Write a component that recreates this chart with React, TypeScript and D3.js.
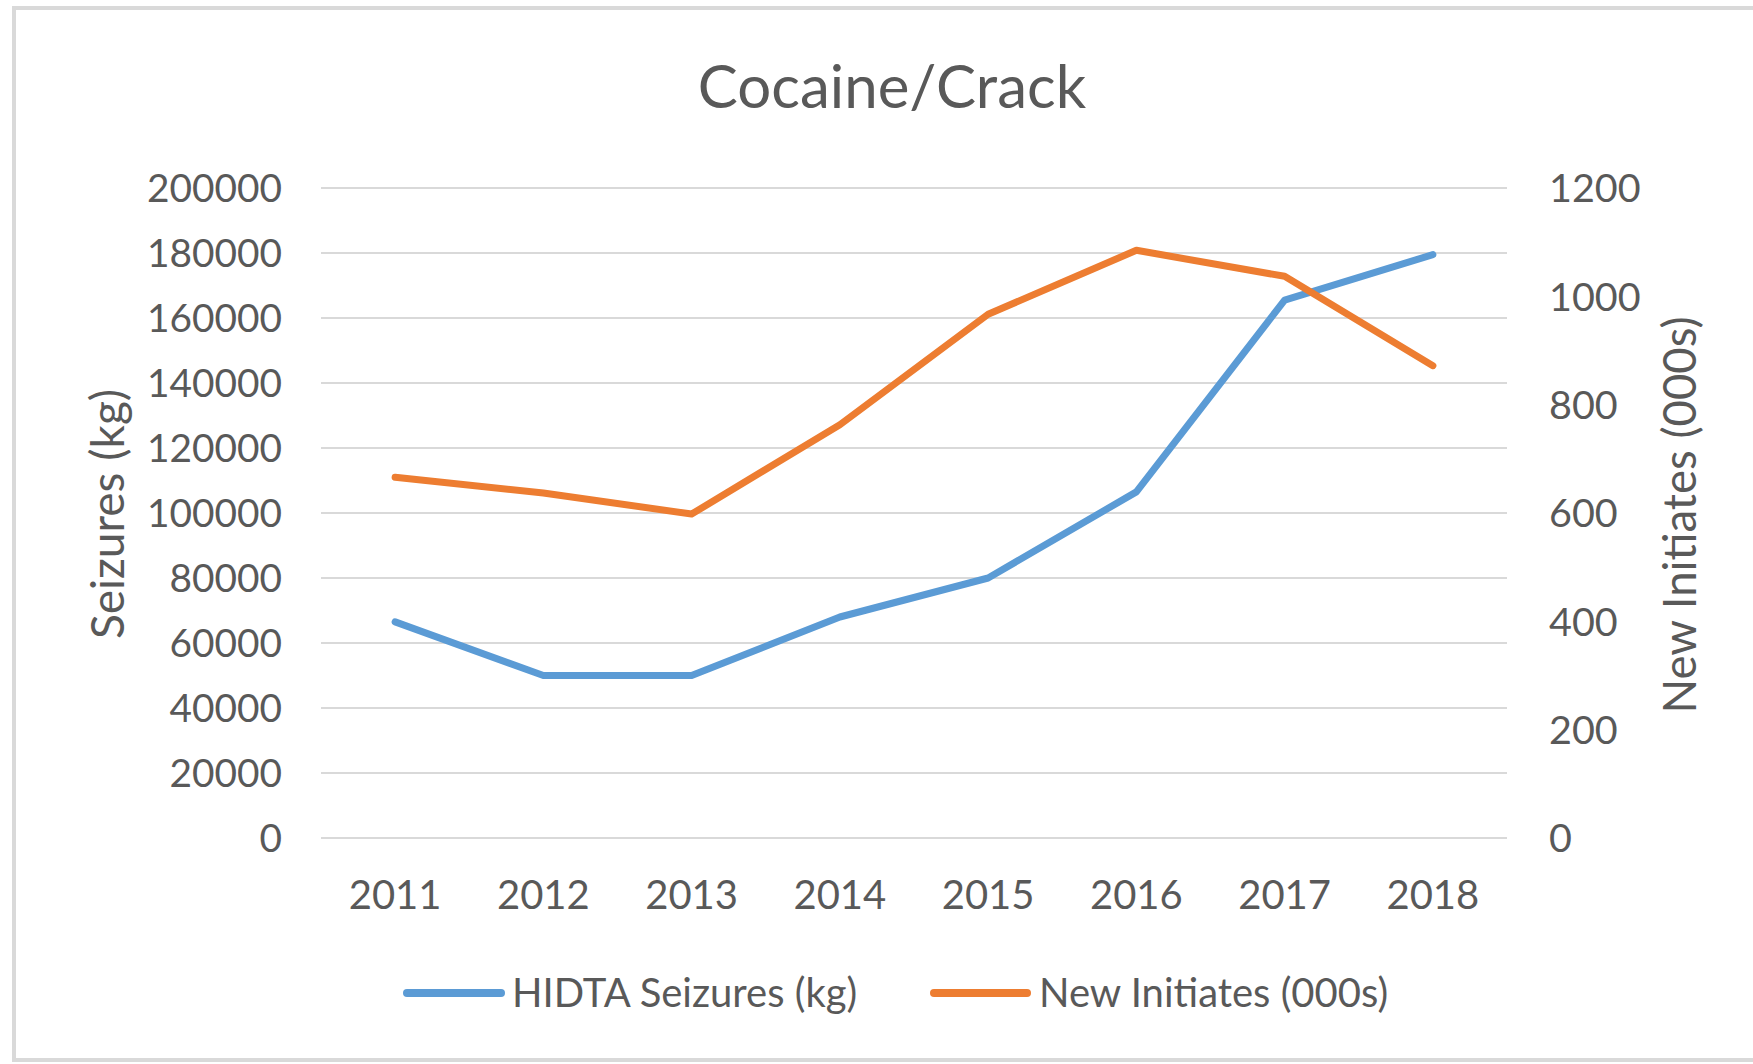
import React from "react";
import * as d3 from "d3";

const years = ["2011", "2012", "2013", "2014", "2015", "2016", "2017", "2018"];
const seizures = [66500, 50000, 50000, 68000, 80000, 106500, 165500, 179500];
const initiates = [666, 637, 598, 763, 967, 1085, 1037, 872];
const leftTicks = [0, 20000, 40000, 60000, 80000, 100000, 120000, 140000, 160000, 180000, 200000];
const rightTicks = [0, 200, 400, 600, 800, 1000, 1200];

const W = 1753;
const H = 1064;
const FONT = "Lato, 'Open Sans', sans-serif";
const TEXT = "#595959";
const BLUE = "#5B9BD5";
const ORANGE = "#ED7D31";

export default function App() {
  const x = d3.scaleBand<string>().domain(years).range([321, 1507]);
  const yL = d3.scaleLinear().domain([0, 200000]).range([838, 188]);
  const yR = d3.scaleLinear().domain([0, 1200]).range([838, 188]);
  const cx = (d: string) => (x(d) as number) + x.bandwidth() / 2;

  const lineL = d3
    .line<number>()
    .x((_, i) => cx(years[i]))
    .y((d) => yL(d));
  const lineR = d3
    .line<number>()
    .x((_, i) => cx(years[i]))
    .y((d) => yR(d));

  return (
    <svg
      width={W}
      height={H}
      style={{ position: "absolute", left: 0, top: 0, background: "#fff" }}
      fontFamily={FONT}
    >
      <rect x={0} y={0} width={W} height={H} fill="#fff" />
      <rect x={14} y={8} width={W + 20} height={H - 12} fill="#fff" stroke="#d9d9d9" strokeWidth={4} />
      <text x={892} y={108} textAnchor="middle" fontSize={60} fill={TEXT}>
        Cocaine/Crack
      </text>
      {leftTicks.map((t) => (
        <line key={"g" + t} x1={321} x2={1507} y1={yL(t)} y2={yL(t)} stroke="#d9d9d9" strokeWidth={2} />
      ))}
      {leftTicks.map((t) => (
        <text key={"l" + t} x={282} y={yL(t)} dy="0.36em" textAnchor="end" fontSize={38.8} fill={TEXT}>
          {t}
        </text>
      ))}
      {rightTicks.map((t) => (
        <text key={"r" + t} x={1549} y={yR(t)} dy="0.36em" textAnchor="start" fontSize={39.5} fill={TEXT}>
          {t}
        </text>
      ))}
      {years.map((y) => (
        <text key={y} x={cx(y)} y={909} textAnchor="middle" fontSize={40} fill={TEXT}>
          {y}
        </text>
      ))}
      <text
        transform={`translate(124,514) rotate(-90)`}
        textAnchor="middle"
        fontSize={46}
        fill={TEXT}
      >
        Seizures (kg)
      </text>
      <text
        transform={`translate(1696,515) rotate(-90)`}
        textAnchor="middle"
        fontSize={45.5}
        fill={TEXT}
      >
        New Initiates (000s)
      </text>
      <path d={lineL(seizures) || ""} fill="none" stroke={BLUE} strokeWidth={7} strokeLinejoin="round" strokeLinecap="round" />
      <path d={lineR(initiates) || ""} fill="none" stroke={ORANGE} strokeWidth={7} strokeLinejoin="round" strokeLinecap="round" />
      <line x1={407} x2={501} y1={993} y2={993} stroke={BLUE} strokeWidth={8} strokeLinecap="round" />
      <text x={512} y={1007} fontSize={40} fill={TEXT}>
        HIDTA Seizures (kg)
      </text>
      <line x1={934} x2={1027} y1={993} y2={993} stroke={ORANGE} strokeWidth={8} strokeLinecap="round" />
      <text x={1039} y={1007} fontSize={40} fill={TEXT}>
        New Initiates (000s)
      </text>
    </svg>
  );
}
